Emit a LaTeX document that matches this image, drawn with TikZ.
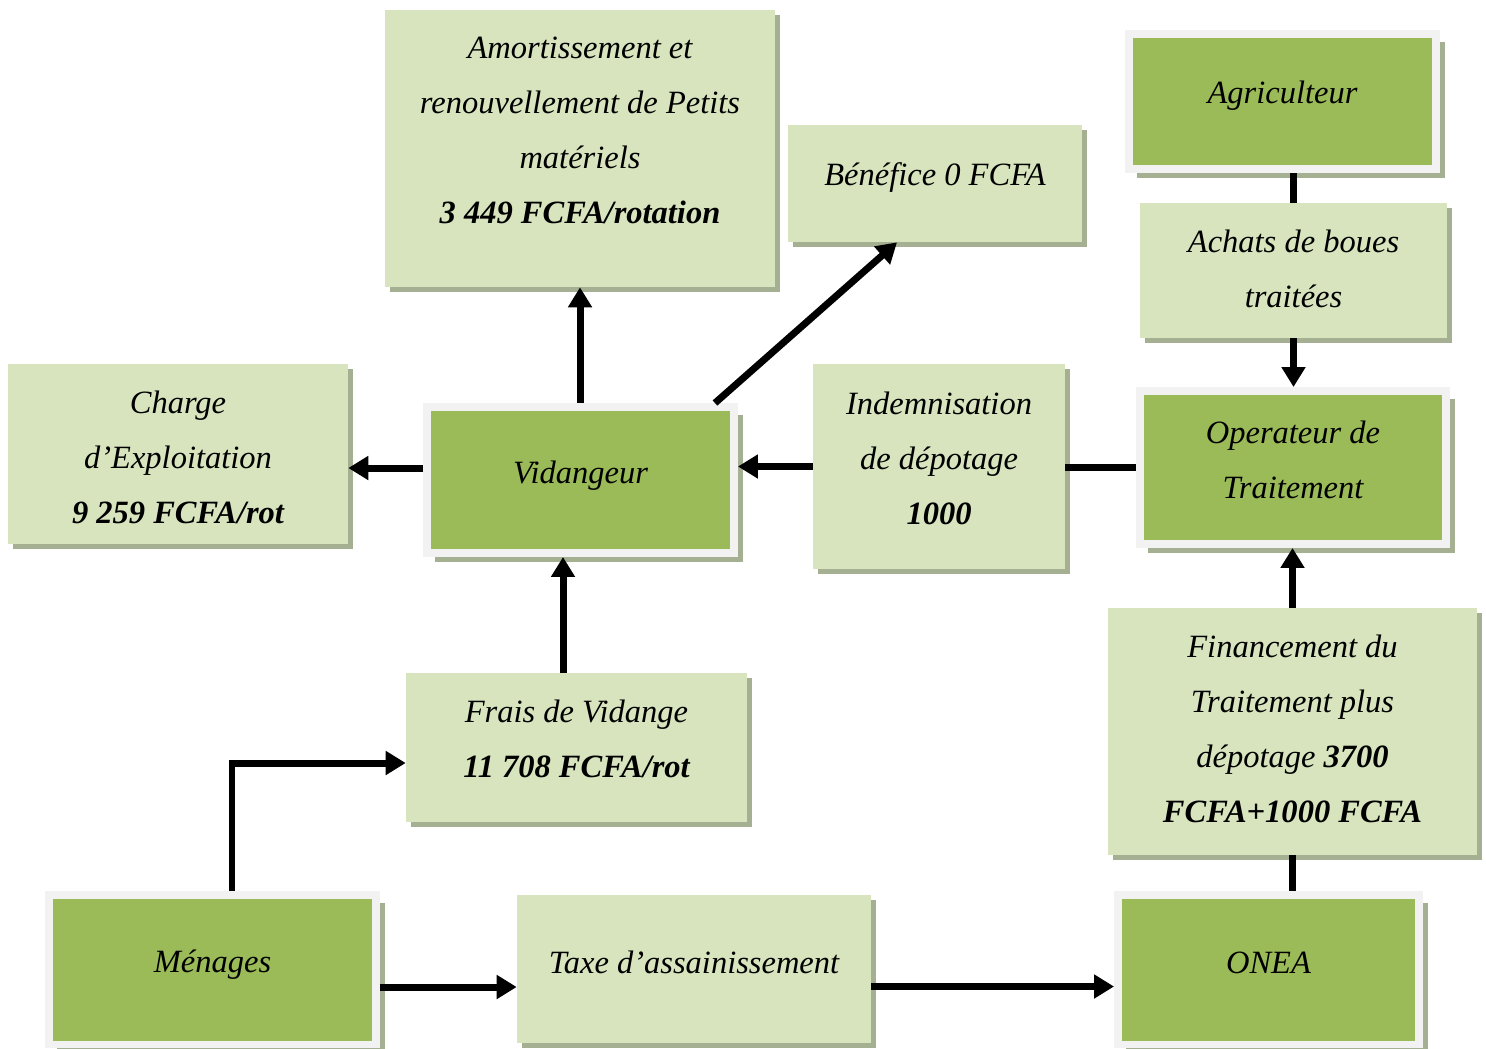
\documentclass[tikz,border=0pt]{standalone}
\usepackage{fontspec}
\setmainfont{Liberation Serif}
\usepackage{xcolor}
\definecolor{vgreen}{RGB}{155,187,89}
\definecolor{vlight}{RGB}{215,228,189}
\definecolor{vframe}{RGB}{242,242,242}
\definecolor{vshadow}{RGB}{165,176,146}
\usepackage{tikz}
\usetikzlibrary{arrows.meta, positioning, shadows, calc}

\begin{document}
\begin{tikzpicture}[x=0.02cm, y=-0.02cm,
  every node/.style={font=\itshape\fontsize{18.5}{31.3}\selectfont, align=center},
  lightbox/.style={rectangle, fill=vlight, inner sep=0pt,
    drop shadow={shadow xshift=0.1cm, shadow yshift=-0.1cm, fill=vshadow, opacity=1}},
  greenbox/.style={rectangle, fill=vgreen, draw=vframe, line width=0.15cm, inner sep=0pt,
    drop shadow={shadow xshift=0.17cm, shadow yshift=-0.17cm, fill=vshadow, opacity=1}},
  flow/.style={line width=0.14cm, -{Triangle[length=0.4cm,width=0.46cm]}},
  link/.style={line width=0.14cm}]
  \useasboundingbox (0,0) rectangle (1486,1048);

  % top row
  \node[lightbox, minimum width=7.8cm, minimum height=5.54cm,
        label={[yshift=0.36cm]center:{Amortissement et\\renouvellement de Petits\\matériels\\\textbf{3 449 FCFA/rotation}}}]
       (amort) at (580,148.5) {};
  \node[lightbox, minimum width=5.88cm, minimum height=2.34cm,
        label={[yshift=0.12cm]center:{Bénéfice 0 FCFA}}]
       (benef) at (935,183.5) {};
  \node[greenbox, minimum width=6.15cm, minimum height=2.71cm,
        label={[yshift=0.12cm]center:{Agriculteur}}]
       (agri) at (1282.5,101.5) {};
  \node[lightbox, minimum width=6.14cm, minimum height=2.7cm,
        label={[yshift=0.04cm]center:{Achats de boues\\traitées}}]
       (achats) at (1293.5,270.5) {};

  % middle row
  \node[lightbox, minimum width=6.8cm, minimum height=3.6cm,
        label={[yshift=-0.06cm]center:{Charge\\d’Exploitation\\\textbf{9 259 FCFA/rot}}}]
       (charge) at (178,454) {};
  \node[greenbox, minimum width=6.15cm, minimum height=2.93cm,
        label={[yshift=0.08cm]center:{Vidangeur}}]
       (vid) at (580.5,480) {};
  \node[lightbox, minimum width=5.04cm, minimum height=4.1cm,
        label={[yshift=0.16cm]center:{Indemnisation\\de dépotage\\\textbf{1000}}}]
       (indem) at (939,466.5) {};
  \node[greenbox, minimum width=6.13cm, minimum height=3.07cm,
        label={[yshift=0.16cm]center:{Operateur de\\Traitement}}]
       (oper) at (1293,467.5) {};

  % lower rows
  \node[lightbox, minimum width=6.82cm, minimum height=2.98cm,
        label={[yshift=0.18cm]center:{Frais de Vidange\\\textbf{11 708 FCFA/rot}}}]
       (frais) at (576.5,747.5) {};
  \node[lightbox, minimum width=7.38cm, minimum height=4.94cm,
        label={[yshift=0.06cm]center:{Financement du\\Traitement plus\\dépotage \textbf{3700}\\\textbf{FCFA+1000 FCFA}}}]
       (finan) at (1292.5,731.5) {};
  \node[greenbox, minimum width=6.55cm, minimum height=2.99cm,
        label={[yshift=0.1cm]center:{Ménages}}]
       (menag) at (212.5,969.5) {};
  \node[lightbox, minimum width=7.08cm, minimum height=2.96cm,
        label={[yshift=0.14cm]center:{Taxe d’assainissement}}]
       (taxe) at (694,969) {};
  \node[greenbox, minimum width=6.03cm, minimum height=2.99cm,
        label={[yshift=0.14cm]center:{ONEA}}]
       (onea) at (1268.5,969.5) {};

  % connectors
  \draw[flow] (vid.north -| amort.south) -- (amort.south);
  \draw[flow] ([xshift=-0.46cm]vid.north east) -- ([xshift=-0.76cm]benef.south);
  \draw[flow] ([yshift=0.24cm]vid.west) -- ([yshift=0.24cm]vid.west -| charge.east);
  \draw[flow] (indem.west) -- (indem.west -| vid.east);
  \draw[link] (oper.west) -- (oper.west -| indem.east);
  \draw[link] (achats.north) -- (achats.north |- agri.south);
  \draw[flow] (achats.south) -- (achats.south |- oper.north);
  \draw[flow] (finan.north) -- (finan.north |- oper.south);
  \draw[link] (finan.south) -- (finan.south |- onea.north);
  \draw[flow] ([xshift=-0.27cm]frais.north) -- ([xshift=-0.27cm]frais.north |- vid.south);
  \draw[flow] ([xshift=0.39cm]menag.north) |- ([yshift=-0.31cm]frais.west);
  \draw[flow] ([yshift=-0.35cm]menag.east) -- ([yshift=-0.35cm]menag.east -| taxe.west);
  \draw[flow] ([yshift=-0.35cm]taxe.east) -- ([yshift=-0.35cm]taxe.east -| onea.west);
\end{tikzpicture}
\end{document}
